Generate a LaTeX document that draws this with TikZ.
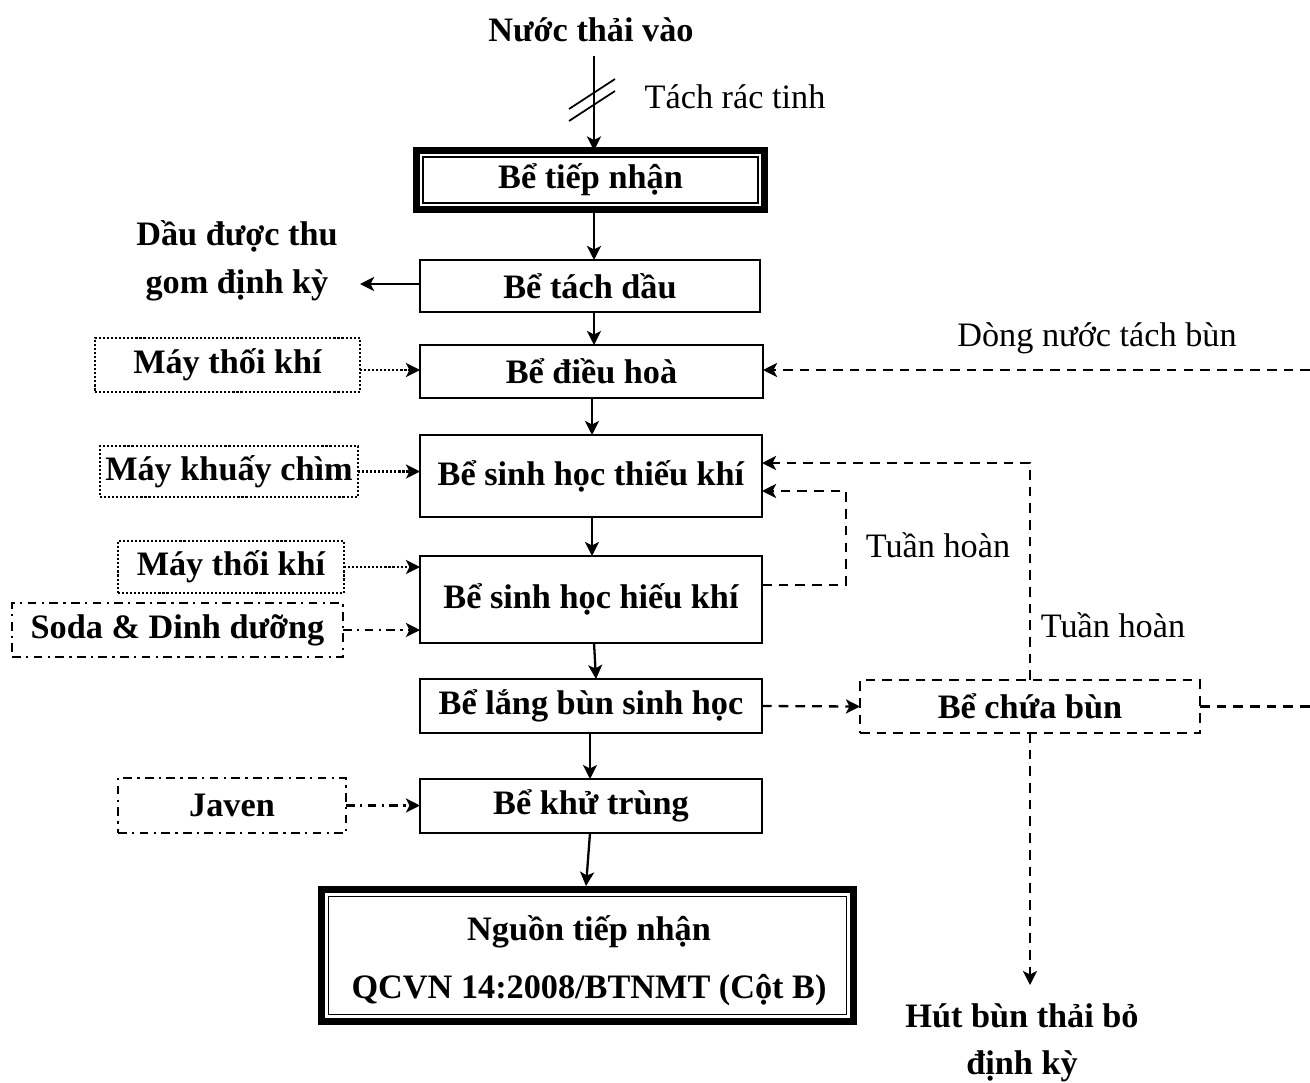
\documentclass[tikz,border=0pt]{standalone}
\usepackage{fontspec}
\setmainfont{Liberation Serif}
\usetikzlibrary{arrows.meta,calc}
\begin{document}
\begin{tikzpicture}[x=0.02cm,y=-0.02cm,
  wh/.style 2 args={minimum width=#1*0.02cm, minimum height=#2*0.02cm},
  base/.style={inner sep=0pt, outer sep=0pt, align=center, font=\bfseries\fontsize{19.5}{24}\selectfont},
  box/.style={base, draw, line width=1.3pt},
  dotbox/.style={base, draw, line width=1.3pt, dash pattern=on 1.2pt off 1.1pt},
  dashbox/.style={base, draw, line width=1.3pt, dash pattern=on 5.5pt off 4pt},
  ddbox/.style={base, draw, line width=1.3pt, dash pattern=on 5pt off 3pt on 1.3pt off 3pt},
  lbl/.style={inner sep=0pt, align=center, font=\fontsize{19.5}{24}\selectfont},
  blbl/.style={inner sep=0pt, align=center, font=\bfseries\fontsize{19.5}{27}\selectfont},
  tip/.style={-{Stealth[length=8pt,width=8pt,inset=2pt]}},
  arr/.style={tip, line width=1.3pt},
  dotarr/.style={tip, line width=1.3pt, dash pattern=on 1.2pt off 1.1pt},
  dasharr/.style={tip, line width=1.3pt, dash pattern=on 5.5pt off 4pt},
  dashln/.style={line width=1.3pt, dash pattern=on 5.5pt off 4pt},
  ddarr/.style={tip, line width=1.3pt, dash pattern=on 5pt off 3pt on 1.3pt off 3pt}
]
\useasboundingbox (0,0) rectangle (1310,1082);

% texts
\node[blbl] (nuoc) at (591,30) {Nước thải vào};
\node[lbl] (tach) at (735,97) {Tách rác tinh};
\node[blbl] (dau) at (237,261) {Dầu được thu\\gom định kỳ};
\node[lbl] (dong) at (1097,338) {Dòng nước tách bùn};
\node[lbl] (th1) at (938,545) {Tuần hoàn};
\node[lbl] (th2) at (1113,625) {Tuần hoàn};
\node[blbl] (hut) at (1022,1043) {Hút bùn thải bỏ\\định kỳ};

% main boxes
\node[base, draw, line width=4pt, wh={348}{59}] (tn) at (590.5,180) {Bể tiếp nhận};
\draw[line width=0.9pt] ([shift={(6.5,6.5)}]tn.north west) rectangle ([shift={(-6.5,-6.5)}]tn.south east);
\node[box, wh={340}{52}] (td) at (590,286) {Bể tách dầu};
\node[box, wh={343}{53}] (dh) at (591.5,371.5) {Bể điều hoà};
\node[box, wh={342}{82}] (tk) at (591,476) {Bể sinh học thiếu khí};
\node[box, wh={342}{87}] (hk) at (591,599.5) {Bể sinh học hiếu khí};
\node[box, wh={342}{54}] (lb) at (591,706) {Bể lắng bùn sinh học};
\node[box, wh={342}{54}] (kt) at (591,806) {Bể khử trùng};
\node[base, draw, line width=4pt, wh={532}{132}] (ng) at (587.5,955.5) {};
\draw[line width=0.9pt] ([shift={(7,7)}]ng.north west) rectangle ([shift={(-7,-7)}]ng.south east);
\node[base, font=\bfseries\fontsize{19.5}{33}\selectfont] (ngt) at (589,961) {Nguồn tiếp nhận\\QCVN 14:2008/BTNMT (Cột B)};
\node[dashbox, wh={340}{53}] (cb) at (1030,706.5) {Bể chứa bùn};

% side boxes
\node[dotbox, wh={265}{54}] (mt1) at (227.5,365) {Máy thối khí};
\node[dotbox, wh={258}{51}] (mk) at (229,471.5) {Máy khuấy chìm};
\node[dotbox, wh={226}{52}] (mt2) at (231,567) {Máy thối khí};
\node[ddbox, wh={331}{54}] (soda) at (177.5,630) {Soda \& Dinh dưỡng};
\node[ddbox, wh={228}{55}] (jav) at (232,805.5) {Javen};

% input
\coordinate (cin) at (594,56);
\draw[arr] (cin) -- (cin |- tn.north);
\draw[line width=1pt] (569,109) -- (615,79);
\draw[line width=1pt] (569,121) -- (615,91);

% main flow
\draw[arr] (594,211) -- (594,260);
\draw[arr] (594,312) -- (594,345);
\draw[arr] (592,398) -- (592,435);
\draw[arr] (592,517) -- (592,556);
\draw[arr] (594,643) -- (596,679);
\draw[arr] (590,733) -- (590,779);
\draw[arr] (590,833) -- (586,886);

% oil
\coordinate (dauE) at (360,284);
\draw[arr] (td.west |- dauE) -- (dauE);

% side inputs
\draw[dotarr] (mt1.east |- 0,370) -- (dh.west |- 0,370);
\draw[dotarr] (mk.east) -- (tk.west |- mk.east);
\draw[dotarr] (mt2.east) -- (hk.west |- mt2.east);
\draw[ddarr] (soda.east) -- (hk.west |- soda.east);
\draw[ddarr] (jav.east) -- (kt.west |- jav.east);

% returns
\coordinate (rE1) at (1310,370);
\draw[dasharr] (rE1) -- (rE1 -| dh.east);
\draw[dasharr] (hk.east |- 0,585) -- (846,585) -- (846,491) -- (tk.east |- 0,491);
\draw[dasharr] (cb.north) -- (cb.north |- 0,463) -- (tk.east |- 0,463);
\draw[dasharr] (lb.east) -- (cb.west);
\coordinate (rE2) at (1310,706.5);
\draw[dashln] (cb.east) -- (rE2);
\draw[dasharr] (cb.south) -- (cb.south |- 0,985);
\end{tikzpicture}
\end{document}
